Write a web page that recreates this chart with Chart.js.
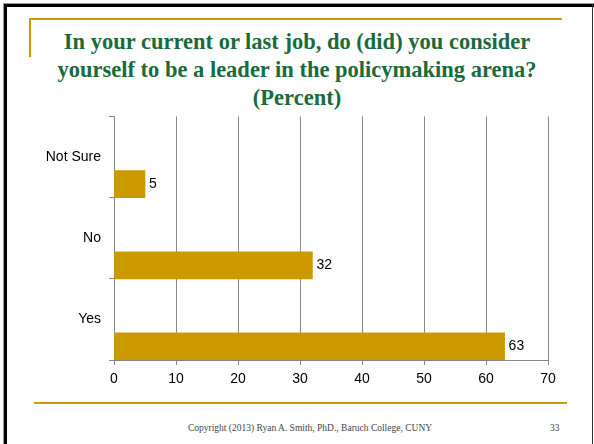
<!DOCTYPE html>
<html>
<head>
<meta charset="utf-8">
<script src="https://cdn.jsdelivr.net/npm/chart.js@4.4.1/dist/chart.umd.min.js"></script>
<style>
  html, body { margin: 0; padding: 0; background: #fff; }
  .slide { position: relative; width: 594px; height: 444px; overflow: hidden; background: #fff; }
  .abs { position: absolute; }
  .title {
    left: 0; top: 28px; width: 594px; text-align: center;
    font: bold 22.5px "Liberation Serif", "DejaVu Serif", serif; line-height: 28px;
    color: #1a6b3c;
  }
  .footer { font: 9.5px "Liberation Serif", serif; color: #444; }
</style>
</head>
<body>
<div class="slide">
  <!-- slide frame -->
  <div class="abs" style="left:3px;top:3px;width:591px;height:1px;background:#999"></div>
  <div class="abs" style="left:4px;top:4px;width:590px;height:3px;background:#000"></div>
  <div class="abs" style="left:3px;top:3px;width:1px;height:441px;background:#999"></div>
  <div class="abs" style="left:4px;top:4px;width:3px;height:440px;background:#000"></div>
  <div class="abs" style="left:592px;top:4px;width:1px;height:440px;background:#333"></div>

  <!-- gold rules -->
  <div class="abs" style="left:29px;top:18px;width:533px;height:2px;background:#cc9900"></div>
  <div class="abs" style="left:29px;top:18px;width:2px;height:39px;background:#cc9900"></div>
  <div class="abs" style="left:34px;top:402px;width:533px;height:2px;background:#cc9900"></div>

  <div class="abs title">In your current or last job, do (did) you consider<br>yourself to be a leader in the policymaking arena?<br>(Percent)</div>

  <div class="abs" style="left:0;top:100px;width:594px;height:300px">
    <canvas id="chart"></canvas>
  </div>

  <div class="abs footer" style="left:0;top:423px;width:620px;text-align:center">Copyright (2013) Ryan A. Smith, PhD., Baruch College, CUNY</div>
  <div class="abs footer" style="left:550px;top:423px">33</div>
</div>

<script>
const categories = ['Not Sure', 'No', 'Yes'];
const percents = [5, 32, 63];
const xTicks = [0, 10, 20, 30, 40, 50, 60, 70];

const GOLD = '#cc9900';
const GRID = '#888888';
const LABEL_FONT = { family: '"Liberation Sans", Arial, sans-serif', size: 14 };

// value labels to the right of each bar
const barLabels = {
    id: 'barLabels',
    afterDatasetsDraw(chart) {
        const ctx = chart.ctx;
        const meta = chart.getDatasetMeta(2);
        ctx.save();
        ctx.font = '14px "Liberation Sans", Arial, sans-serif';
        ctx.fillStyle = '#000';
        ctx.textAlign = 'left';
        ctx.textBaseline = 'middle';
        meta.data.forEach((bar, i) => {
            ctx.fillText(String(percents[i]), bar.x + 4, bar.y);
        });
        ctx.restore();
    },
};

new Chart(document.getElementById('chart'), {
    type: 'bar',
    data: {
        labels: categories,
        datasets: [
            // two empty series keep the real bar in the bottom third of each band
            { label: '', data: [] },
            { label: '', data: [] },
            {
                label: 'Percent',
                data: percents,
                backgroundColor: GOLD,
                borderWidth: 0,
            },
        ],
    },
    options: {
        indexAxis: 'y',
        responsive: true,
        maintainAspectRatio: false,
        animation: false,
        categoryPercentage: 1,
        barPercentage: 1,
        layout: { padding: { left: 0, right: 46, top: 16, bottom: 0 } },
        plugins: {
            legend: { display: false },
            tooltip: { enabled: false },
        },
        scales: {
            x: {
                min: 0,
                max: 70,
                afterBuildTicks: (s) => { s.ticks = xTicks.map((v) => ({ value: v })); },
                afterFit: (s) => { s.height = 40; },
                grid: { color: GRID, tickLength: 5, drawTicks: true },
                border: { color: GRID },
                ticks: { color: '#000', font: LABEL_FONT, padding: 6 },
            },
            y: {
                afterFit: (s) => { s.width = 114; },
                grid: { drawOnChartArea: false, drawTicks: true, tickLength: 5, color: GRID, offset: true },
                border: { color: GRID },
                ticks: { color: '#000', font: LABEL_FONT, padding: 8 },
            },
        },
    },
    plugins: [barLabels],
});
</script>
</body>
</html>
